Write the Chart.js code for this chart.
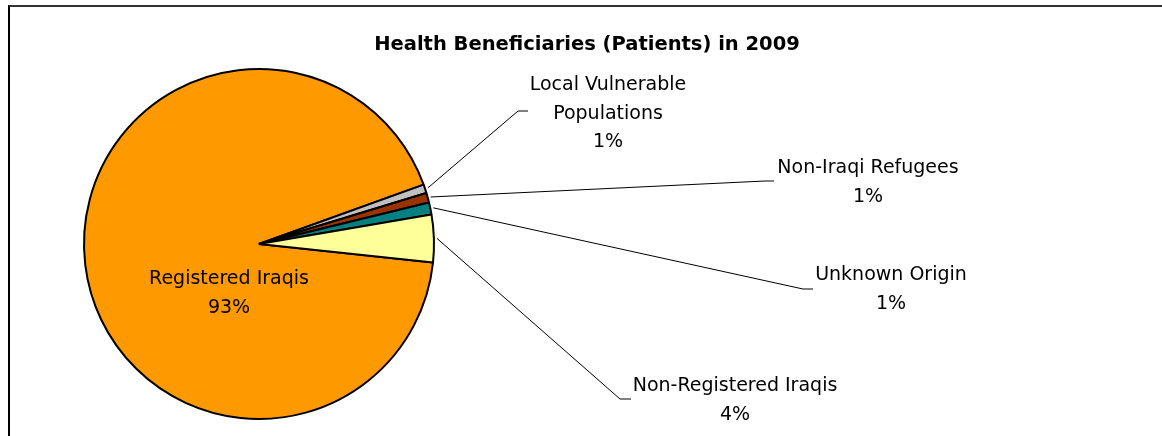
<!DOCTYPE html>
<html>
<head>
<meta charset="utf-8">
<title>Health Beneficiaries (Patients) in 2009</title>
<script src="https://cdn.jsdelivr.net/npm/chart.js@4"></script>
<style>
    html, body { margin: 0; padding: 0; background: #fff; }
    #wrap { position: relative; width: 1162px; height: 436px; overflow: hidden; }
    #frame {
        position: absolute; left: 8px; top: 5px; width: 1200px; height: 500px;
        border-top: 2px solid #333; border-left: 2px solid #000;
    }
    #chart { position: absolute; left: 0; top: 0; }
</style>
</head>
<body>
<div id="wrap">
    <div id="frame"></div>
    <canvas id="chart" width="1162" height="436"></canvas>
</div>
<script>
// Chart data
const titleText = 'Health Beneficiaries (Patients) in 2009';
const categories = ['Registered Iraqis', 'Local Vulnerable Populations', 'Non-Iraqi Refugees', 'Unknown Origin', 'Non-Registered Iraqis'];
const shares = [92.8, 0.8, 0.9, 1.1, 4.4];
const sliceColors = ['#FF9900', '#C0C0C0', '#993300', '#008080', '#FFFF99'];

// Label placement (x = text centre, y = first baseline, leader elbow / end)
const labelLayout = [
    { x: 229, y: 284, wrap: 0 },
    { x: 608, y: 90, wrap: 2, elbow: [518, 111], end: [528, 111] },
    { x: 868, y: 173, wrap: 0, elbow: [765, 181], end: [774, 181] },
    { x: 891, y: 280, wrap: 0, elbow: [803, 289], end: [813, 289] },
    { x: 735, y: 391, wrap: 0, elbow: [620, 399], end: [631, 399] }
];
const lineHeight = 28.5;
const labelFont = '19px "DejaVu Sans"';
const titleFont = 'bold 19.5px "DejaVu Sans"';

document.addEventListener('DOMContentLoaded', () => {
    initializeChart();
});

// Split a name after n words
function splitLabel(name, n) {
    if (!n) return [name];
    const words = name.split(' ');
    return [words.slice(0, n).join(' '), words.slice(n).join(' ')];
}

// Title, leader lines and labels
const labelPlugin = {
    id: 'pieLabels',
    afterDraw(chart) {
        const ctx = chart.ctx;
        const meta = chart.getDatasetMeta(0);
        const total = shares.reduce((a, b) => a + b, 0);

        ctx.save();
        ctx.fillStyle = '#000';
        ctx.strokeStyle = '#000';
        ctx.lineWidth = 1;
        ctx.textAlign = 'center';
        ctx.textBaseline = 'alphabetic';

        ctx.font = titleFont;
        ctx.fillText(titleText, 587, 50);

        ctx.font = labelFont;
        meta.data.forEach((arc, i) => {
            const lay = labelLayout[i];
            const pct = Math.round(shares[i] / total * 100) + '%';
            const lines = splitLabel(categories[i], lay.wrap).concat([pct]);

            if (lay.elbow) {
                const mid = (arc.startAngle + arc.endAngle) / 2;
                const r = arc.outerRadius + 3;
                ctx.beginPath();
                ctx.moveTo(arc.x + Math.cos(mid) * r, arc.y + Math.sin(mid) * r);
                ctx.lineTo(lay.elbow[0], lay.elbow[1]);
                ctx.lineTo(lay.end[0], lay.end[1]);
                ctx.stroke();
            }

            lines.forEach((t, k) => {
                ctx.fillText(t, lay.x, lay.y + k * lineHeight);
            });
        });
        ctx.restore();
    }
};

function initializeChart() {
    const ctx = document.getElementById('chart').getContext('2d');
    new Chart(ctx, {
        type: 'pie',
        data: {
            labels: categories,
            datasets: [{
                data: shares,
                backgroundColor: sliceColors,
                borderColor: '#000',
                borderWidth: 2
            }]
        },
        options: {
            responsive: false,
            animation: false,
            rotation: 96.1,
            layout: {
                padding: { left: 83, top: 68, right: 727, bottom: 16 }
            },
            plugins: {
                legend: { display: false },
                tooltip: { enabled: false },
                title: { display: false }
            }
        },
        plugins: [labelPlugin]
    });
}
</script>
</body>
</html>
